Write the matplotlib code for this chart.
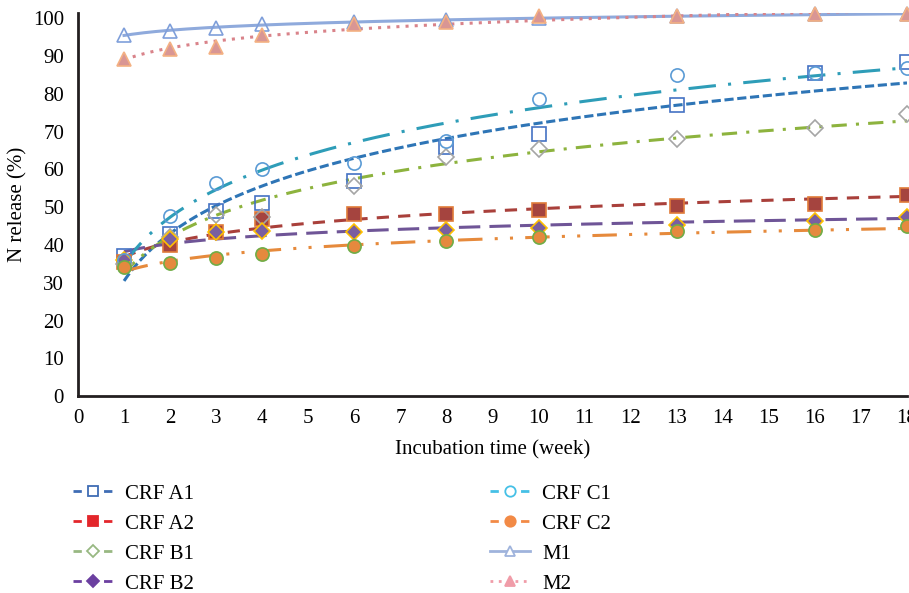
import numpy as np
import matplotlib.pyplot as plt
from matplotlib.lines import Line2D

plt.rcParams['font.family'] = ['Liberation Serif', 'DejaVu Serif']

weeks = [1, 2, 3, 4, 6, 8, 10, 13, 16, 18]

crf_a1 = [37, 43, 49, 51, 57, 66, 69.3, 77, 85.5, 88.5]
crf_a2 = [35.5, 40, 43.4, 46.8, 48.1, 48.2, 49.2, 50.3, 50.8, 53.2]
crf_b1 = [35, 42, 47.9, 47.5, 55.6, 63.3, 65.4, 68, 71, 74.6]
crf_b2 = [36, 41.5, 43.4, 43.6, 43.5, 44, 44.5, 45.3, 46.3, 47.5]
crf_c1 = [36, 47.6, 56.3, 60, 61.6, 67.5, 78.6, 85, 85.5, 86.8]
crf_c2 = [34.2, 35.3, 36.6, 37.6, 39.7, 41, 42, 43.6, 43.9, 45]
m1 = [95.5, 96.5, 97.5, 98.5, 99, 99.5, 100, 100.5, 101, 101]
m2 = [89.2, 91.8, 92.3, 95.5, 98.4, 99, 100.5, 100.5, 101, 101]

names = ['CRF A1', 'CRF A2', 'CRF B1', 'CRF B2', 'CRF C1', 'CRF C2', 'M1', 'M2']
values = [crf_a1, crf_a2, crf_b1, crf_b2, crf_c1, crf_c2, m1, m2]

# trend line colour/dash, marker, marker face, marker edge
styles = [
    ('#2E75B6', (0, (3, 1.2)), 's', 'none', '#4472C4'),
    ('#A9403B', (0, (4, 3)), 's', '#A5443F', '#E07B39'),
    ('#8DB33E', (0, (5, 3, 1, 3)), 'D', 'none', '#A5A5A5'),
    ('#6F5597', (0, (7, 3)), 'D', '#7A5FA0', '#FFC000'),
    ('#2E9DB8', (0, (9, 4, 1, 4)), 'o', 'none', '#5B9BD5'),
    ('#E68A3C', (0, (8, 4, 1, 4, 1, 4)), 'o', '#E5893E', '#70AD47'),
    ('#8FAADC', '-', '^', 'none', '#7F9FDA'),
    ('#D9838A', (0, (1, 2)), '^', '#D99694', '#F4B183'),
]

# colours used in the legend image
legend_cols = ['#3F6CB4', '#E3262B', '#98B882', '#6B3FA0',
               '#45C0E6', '#F28A46', '#9FB3DC', '#F09CA8']
legend_face = ['white', '#E3262B', 'white', '#6B3FA0',
               'white', '#F28A46', 'white', '#F09CA8']

fig = plt.figure(figsize=(9.09, 5.93), dpi=100)
ax = fig.add_axes([0.0858, 0.332, 0.912, 0.6464])

x = np.array(weeks, dtype=float)
xs = np.linspace(1, 18, 200)
for vals, (lc, ls, mk, mf, me) in zip(values, styles):
    ax.plot(weeks, vals, linestyle='none', marker=mk, markersize=9.5 if mk != 'D' else 8,
            markerfacecolor=mf, markeredgecolor=me, markeredgewidth=1.2, zorder=3,
            clip_on=False)
    # logarithmic trend line fitted to the points
    a, b = np.polyfit(np.log(x), np.array(vals), 1)
    ax.plot(xs, a * np.log(xs) + b, color=lc, linestyle=ls, linewidth=2.2, zorder=2)

ax.set_xlim(0, 18)
ax.set_ylim(0, 101.4)
ax.set_xticks(range(0, 19))
ax.set_yticks(range(0, 101, 10))
ax.tick_params(length=0, labelsize=15, pad=9)
ax.tick_params(axis='y', pad=10)
for s in ['top', 'right']:
    ax.spines[s].set_visible(False)
for s in ['left', 'bottom']:
    ax.spines[s].set_linewidth(2)
    ax.spines[s].set_color('#231F20')
ax.set_xlabel('Incubation time (week)', fontsize=15, labelpad=9)
ax.set_ylabel('N release (%)', fontsize=15, labelpad=4)

handles = []
for i, n in enumerate(names):
    ls = '-' if n == 'M1' else ((0, (1, 2)) if n == 'M2' else (0, (3, 2.5)))
    handles.append(Line2D([0], [0], color=legend_cols[i], linestyle=ls, linewidth=2,
                          marker=styles[i][2], markersize=7.5 if styles[i][2] != 'D' else 6.5,
                          markerfacecolor=legend_face[i], markeredgecolor=legend_cols[i],
                          markeredgewidth=1.3, label=n))

kw = dict(loc='upper left', frameon=False, fontsize=15, handlelength=1.9,
          handletextpad=0.6, labelspacing=0.5, numpoints=1, borderpad=0,
          borderaxespad=0)
fig.legend(handles=handles[:4], bbox_to_anchor=(73 / 909, 1 - 484 / 593), **kw)
fig.legend(handles=handles[4:], bbox_to_anchor=(490 / 909, 1 - 484 / 593), **kw)

fig.savefig('out.png', dpi=100)
